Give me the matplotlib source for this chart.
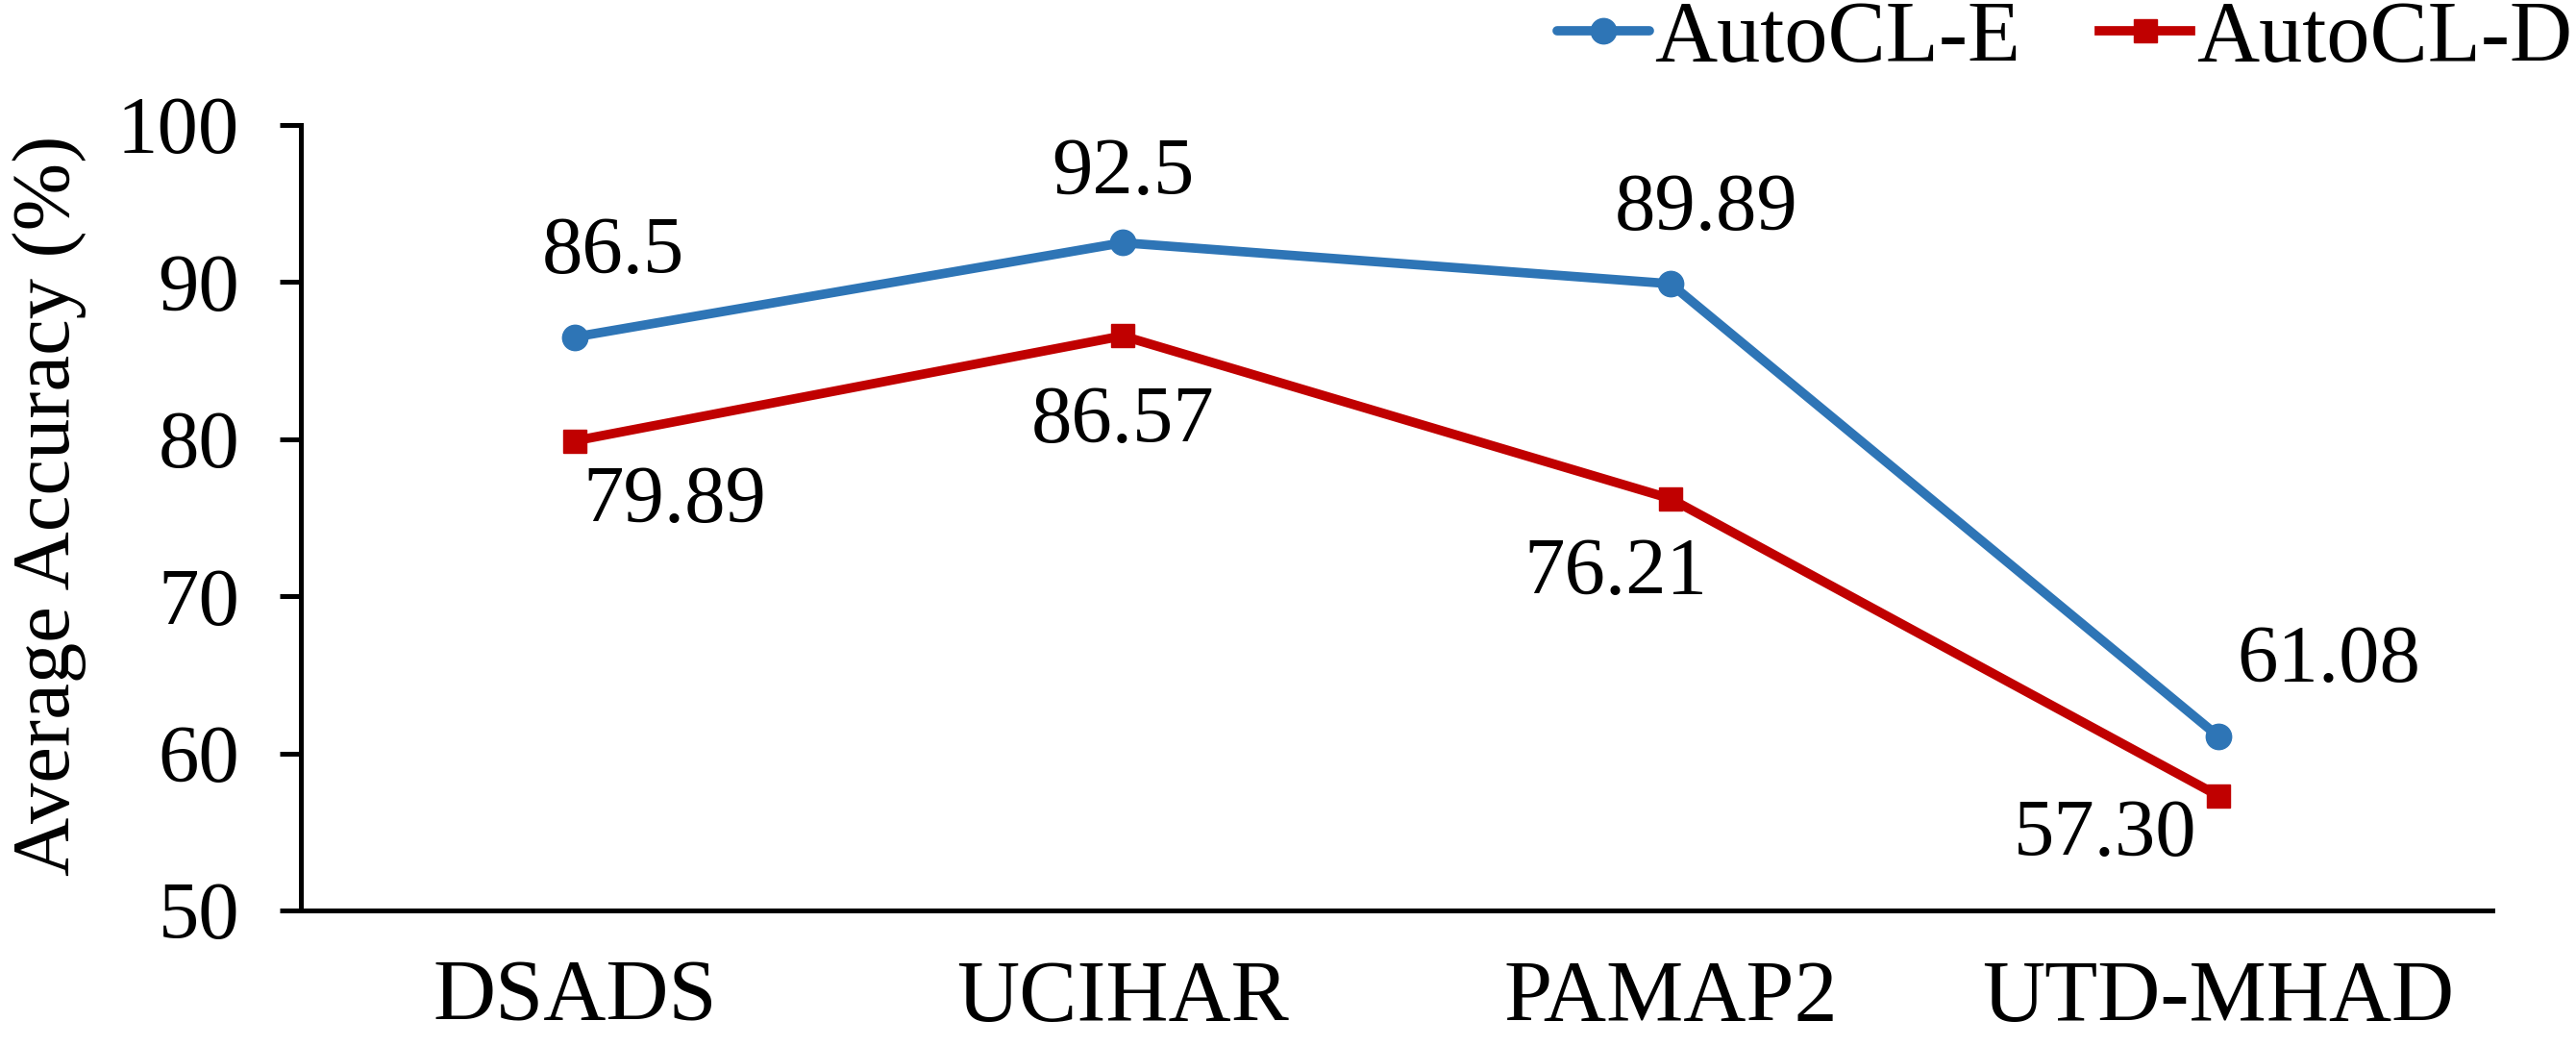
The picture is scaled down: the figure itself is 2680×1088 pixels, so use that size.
import matplotlib
matplotlib.use("Agg")
import matplotlib.pyplot as plt

plt.rcParams['font.family'] = ['Liberation Serif', 'DejaVu Serif']

categories = ["DSADS", "UCIHAR", "PAMAP2", "UTD-MHAD"]
autocl_e = [86.5, 92.5, 89.89, 61.08]
autocl_d = [79.89, 86.57, 76.21, 57.30]
labels_e = ["86.5", "92.5", "89.89", "61.08"]
labels_d = ["79.89", "86.57", "76.21", "57.30"]
yticks = [50, 60, 70, 80, 90, 100]

FS_SMALL = 61
FS_BIG = 65
fig = plt.figure(figsize=(26.8, 10.88), dpi=100)
ax = fig.add_axes([0.1168, 0.1296, 0.8507, 0.751])

x = list(range(len(categories)))
blue = "#2E75B6"
red = "#C00000"
ax.plot(x, autocl_e, color=blue, lw=7, marker='o', markersize=19, label="AutoCL-E",
        solid_capstyle='round')
ax.plot(x, autocl_d, color=red, lw=7, marker='s', markersize=17, label="AutoCL-D")

ax.set_xlim(-0.5, len(categories) - 0.5)
ax.set_ylim(50, 100)
ax.set_yticks(yticks)
ax.set_xticks(x)
ax.set_xticklabels(categories, fontsize=FS_BIG)
ax.tick_params(axis='y', labelsize=FS_SMALL, direction='out', length=16, width=3.6, pad=30)
ax.tick_params(axis='x', length=0, pad=37)
for s in ['top', 'right']:
    ax.spines[s].set_visible(False)
ax.spines['left'].set_linewidth(3.6)
ax.spines['bottom'].set_linewidth(3.6)
ax.set_ylabel("Average Accuracy (%)", fontsize=FS_SMALL)
ax.yaxis.set_label_coords(-0.098, 0.515)

# label offsets in points (style only)
off_e = [(29, 63), (0, 51), (27, 55), (83, 56)]
off_d = [(75, -46), (0, -65), (-41, -57), (-85, -30)]
for i in range(len(categories)):
    ax.annotate(labels_e[i], (x[i], autocl_e[i]), xytext=off_e[i], textcoords='offset points',
                ha='center', va='center', fontsize=FS_SMALL)
    ax.annotate(labels_d[i], (x[i], autocl_d[i]), xytext=off_d[i], textcoords='offset points',
                ha='center', va='center', fontsize=FS_SMALL)

leg = fig.legend(loc='center right', bbox_to_anchor=(0.9985, 0.962), ncol=2, fontsize=FS_BIG,
                 frameon=False, handlelength=1.06, handletextpad=0.06, columnspacing=0.9,
                 borderaxespad=0.0, borderpad=0.0)

fig.savefig("out.png", dpi=100)
